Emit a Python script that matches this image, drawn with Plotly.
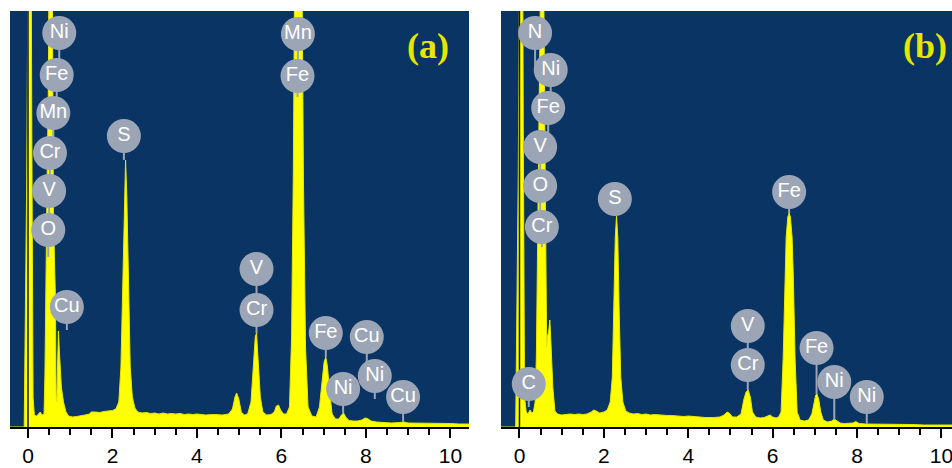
import plotly.graph_objects as go

# ---------------- spectrum (a) : energy in keV, intensity in counts ----------------
energy_a = [-0.43, -0.09, -0.03, 0.02, 0.05, 0.09, 0.12, 0.15, 0.20, 0.25,
            0.29, 0.33, 0.38, 0.40, 0.42, 0.45, 0.48, 0.50, 0.53, 0.56,
            0.58, 0.60, 0.63, 0.65, 0.665, 0.68, 0.70, 0.72, 0.75, 0.79,
            0.84, 0.90, 0.96, 1.05, 1.15, 1.25, 1.35, 1.45, 1.50, 1.60,
            1.70, 1.80, 1.90, 2.00, 2.08, 2.15, 2.20, 2.24, 2.28, 2.31,
            2.34, 2.38, 2.42, 2.47, 2.53, 2.60, 2.70, 2.80, 2.90, 3.00,
            3.10, 3.20, 3.30, 3.40, 3.50, 3.60, 3.70, 3.80, 3.90, 4.00,
            4.20, 4.40, 4.60, 4.75, 4.84, 4.90, 4.94, 4.99, 5.05, 5.12,
            5.20, 5.28, 5.34, 5.38, 5.41, 5.45, 5.50, 5.56, 5.65, 5.75,
            5.83, 5.88, 5.93, 5.98, 6.05, 6.12, 6.19, 6.24, 6.28, 6.32,
            6.36, 6.40, 6.44, 6.48, 6.52, 6.57, 6.63, 6.72, 6.82, 6.90,
            6.96, 7.01, 7.05, 7.09, 7.14, 7.20, 7.28, 7.36, 7.42, 7.47,
            7.52, 7.60, 7.70, 7.80, 7.90, 7.98, 8.04, 8.12, 8.25, 8.40,
            8.60, 8.80, 8.90, 9.00, 9.20, 9.40, 9.60, 9.80, 10.00, 10.20,
            10.44]
counts_a = [0, 0, 2500, 6000, 8000, 3000, 300, 120, 110, 130,
            150, 120, 130, 500, 1500, 2400, 3300, 4300, 7000, 5500,
            4100, 2200, 1600, 1300, 300, 250, 600, 960, 700, 400,
            250, 150, 110, 100, 105, 110, 120, 130, 150, 150,
            145, 155, 160, 165, 180, 250, 600, 1400, 2300, 2670,
            2300, 1300, 600, 300, 190, 150, 140, 145, 135, 140,
            130, 140, 130, 135, 130, 135, 125, 130, 125, 130,
            120, 125, 120, 130, 180, 300, 340, 280, 150, 120,
            130, 250, 650, 900, 940, 700, 300, 150, 120, 125,
            150, 210, 220, 170, 130, 130, 200, 900, 2500, 5000,
            8000, 9000, 8000, 5000, 2500, 800, 200, 110, 100, 200,
            450, 650, 700, 600, 350, 130, 80, 80, 120, 140,
            100, 65, 60, 60, 70, 90, 85, 60, 50, 45,
            40, 45, 50, 40, 40, 35, 40, 35, 35, 30,
            30]

# ---------------- spectrum (b) ----------------
energy_b = [-0.44, -0.09, -0.03, 0.02, 0.05, 0.09, 0.12, 0.16, 0.20, 0.25,
            0.29, 0.33, 0.37, 0.40, 0.43, 0.46, 0.50, 0.53, 0.56, 0.60,
            0.63, 0.645, 0.66, 0.69, 0.72, 0.75, 0.79, 0.84, 0.90, 1.00,
            1.10, 1.20, 1.30, 1.40, 1.50, 1.60, 1.70, 1.76, 1.82, 1.90,
            2.00, 2.08, 2.15, 2.20, 2.24, 2.27, 2.30, 2.33, 2.36, 2.40,
            2.45, 2.52, 2.60, 2.70, 2.80, 2.90, 3.00, 3.10, 3.20, 3.30,
            3.40, 3.50, 3.60, 3.70, 3.80, 3.90, 4.00, 4.20, 4.40, 4.60,
            4.75, 4.85, 4.92, 4.97, 5.05, 5.15, 5.25, 5.32, 5.37, 5.42,
            5.47, 5.52, 5.60, 5.70, 5.80, 5.88, 5.94, 6.00, 6.08, 6.14,
            6.20, 6.25, 6.29, 6.32, 6.36, 6.39, 6.42, 6.46, 6.49, 6.53,
            6.58, 6.65, 6.75, 6.85, 6.93, 6.98, 7.02, 7.05, 7.09, 7.14,
            7.20, 7.30, 7.40, 7.46, 7.52, 7.60, 7.70, 7.80, 7.90, 7.97,
            8.05, 8.20, 8.40, 8.60, 8.80, 9.00, 9.30, 9.60, 9.90, 10.25]
counts_b = [0, 0, 2500, 6000, 8000, 3000, 300, 150, 130, 170,
            140, 150, 250, 700, 1800, 3000, 4500, 7000, 5000, 3000,
            1500, 800, 900, 950, 1070, 800, 400, 160, 130, 120,
            125, 130, 125, 130, 125, 130, 150, 170, 160, 140,
            150, 170, 250, 500, 1300, 1900, 2110, 1900, 1200, 500,
            250, 160, 140, 130, 135, 125, 130, 120, 125, 120,
            120, 115, 115, 110, 110, 105, 110, 100, 95, 95,
            100, 120, 150, 140, 100, 100, 130, 280, 350, 370,
            300, 150, 100, 90, 95, 110, 120, 100, 90, 100,
            150, 700, 1500, 1900, 2100, 2140, 2100, 1900, 1500, 700,
            150, 70, 60, 70, 130, 250, 320, 330, 280, 150,
            70, 50, 60, 80, 60, 40, 35, 35, 40, 55,
            35, 30, 30, 25, 25, 25, 25, 20, 20, 20]

# ---------------- element markers: name, line energy, tag height, stem end ----------------
tags_a = ["Ni", "Fe", "Mn", "Cr", "V", "O", "Cu", "S", "V", "Cr",
          "Mn", "Fe", "Fe", "Cu", "Ni", "Ni", "Cu"]
tag_energy_a = [0.74, 0.68, 0.60, 0.52, 0.50, 0.48, 0.92, 2.27, 5.41, 5.41,
                6.39, 6.38, 7.05, 8.02, 8.21, 7.46, 8.88]
tag_height_a = [3940, 3520, 3140, 2740, 2360, 1970, 1200, 2910, 1580, 1170,
                3930, 3510, 940, 900, 510, 380, 300]
stem_end_a = [3520, 3140, 2740, 2360, 1970, 1700, 970, 2670, 1170, 940,
              3510, 3300, 700, 510, 280, 140, 50]

tags_b = ["N", "Ni", "Fe", "V", "O", "Cr", "C", "S", "Fe", "V",
          "Cr", "Fe", "Ni", "Ni"]
tag_energy_b = [0.37, 0.74, 0.68, 0.49, 0.49, 0.53, 0.22, 2.26, 6.39, 5.41,
                5.41, 7.04, 7.46, 8.23]
tag_height_b = [3940, 3570, 3190, 2800, 2410, 2000, 430, 2280, 2350, 1010,
                620, 790, 450, 300]
stem_end_b = [3570, 3190, 2800, 2410, 2000, 1800, 200, 2110, 2140, 620,
              370, 330, 70, 30]

panel_names = ["(a)", "(b)"]
tick_values = [0, 2, 4, 6, 8, 10]

# ---------------- styling ----------------
BG = "#093463"
YELLOW = "#ffff00"
TAG = "#9ba5b5"
Y_TOP = 4160
x_ranges = [[-0.426, 10.44], [-0.438, 10.25]]
x_domains = [[10 / 952, 469 / 952], [501 / 952, 1.0]]

fig = go.Figure()

panels = [
    (energy_a, counts_a, tags_a, tag_energy_a, tag_height_a, stem_end_a),
    (energy_b, counts_b, tags_b, tag_energy_b, tag_height_b, stem_end_b),
]

for i, (ex, cy, tg, te, th, ts) in enumerate(panels):
    xa = "x" if i == 0 else "x2"
    ya = "y" if i == 0 else "y2"
    # filled spectrum
    fig.add_trace(go.Scatter(
        x=ex, y=cy, mode="lines", fill="tozeroy",
        fillcolor=YELLOW, line=dict(color="#e8e800", width=1),
        xaxis=xa, yaxis=ya, hoverinfo="skip", showlegend=False))
    # zero-energy marker line
    fig.add_trace(go.Scatter(
        x=[0, 0], y=[0, Y_TOP], mode="lines",
        line=dict(color="#141414", width=1.5),
        xaxis=xa, yaxis=ya, hoverinfo="skip", showlegend=False))
    # stems from tags down to the peaks
    sx, sy = [], []
    for e, h, s in zip(te, th, ts):
        sx += [e, e, None]
        sy += [h, s, None]
    fig.add_trace(go.Scatter(
        x=sx, y=sy, mode="lines", line=dict(color=TAG, width=2),
        xaxis=xa, yaxis=ya, hoverinfo="skip", showlegend=False))
    # round element tags
    fig.add_trace(go.Scatter(
        x=te, y=th, mode="markers+text", text=tg,
        textposition="middle center",
        textfont=dict(color="white", size=20, family="Liberation Sans"),
        marker=dict(size=34, color=TAG, line=dict(width=0)),
        xaxis=xa, yaxis=ya, hoverinfo="skip", showlegend=False,
        cliponaxis=False))

axis_common = dict(
    showgrid=False, zeroline=False, showline=True,
    linecolor="black", linewidth=1.5, mirror=False,
    ticks="outside", ticklen=9, tickwidth=1.5, tickcolor="black",
    tickvals=tick_values, ticklabeloverflow="allow",
    tickfont=dict(size=21, color="black", family="Liberation Sans"),
    minor=dict(ticks="outside", dtick=0.5, tick0=0, ticklen=6,
               tickwidth=1.5, tickcolor="black", showgrid=False),
)
yaxis_common = dict(range=[0, Y_TOP], showgrid=False, zeroline=False,
                    showticklabels=False, ticks="", showline=False)

fig.update_layout(
    width=952, height=468,
    margin=dict(l=0, r=0, t=11, b=41),
    paper_bgcolor="white",
    plot_bgcolor=BG,
    showlegend=False,
    xaxis=dict(domain=x_domains[0], range=x_ranges[0], anchor="y", **axis_common),
    yaxis=dict(anchor="x", **yaxis_common),
    xaxis2=dict(domain=x_domains[1], range=x_ranges[1], anchor="y2", **axis_common),
    yaxis2=dict(anchor="x2", **yaxis_common),
)

# panel letters
for i, name in enumerate(panel_names):
    fig.add_annotation(
        x=0.91 if i == 0 else 0.94, y=0.915,
        xref="x domain" if i == 0 else "x2 domain",
        yref="y domain" if i == 0 else "y2 domain",
        text=f"<b>{name}</b>", showarrow=False,
        font=dict(family="Liberation Serif", size=36, color="#e6e600"),
        xanchor="center", yanchor="middle")

fig.write_html("out.html")
